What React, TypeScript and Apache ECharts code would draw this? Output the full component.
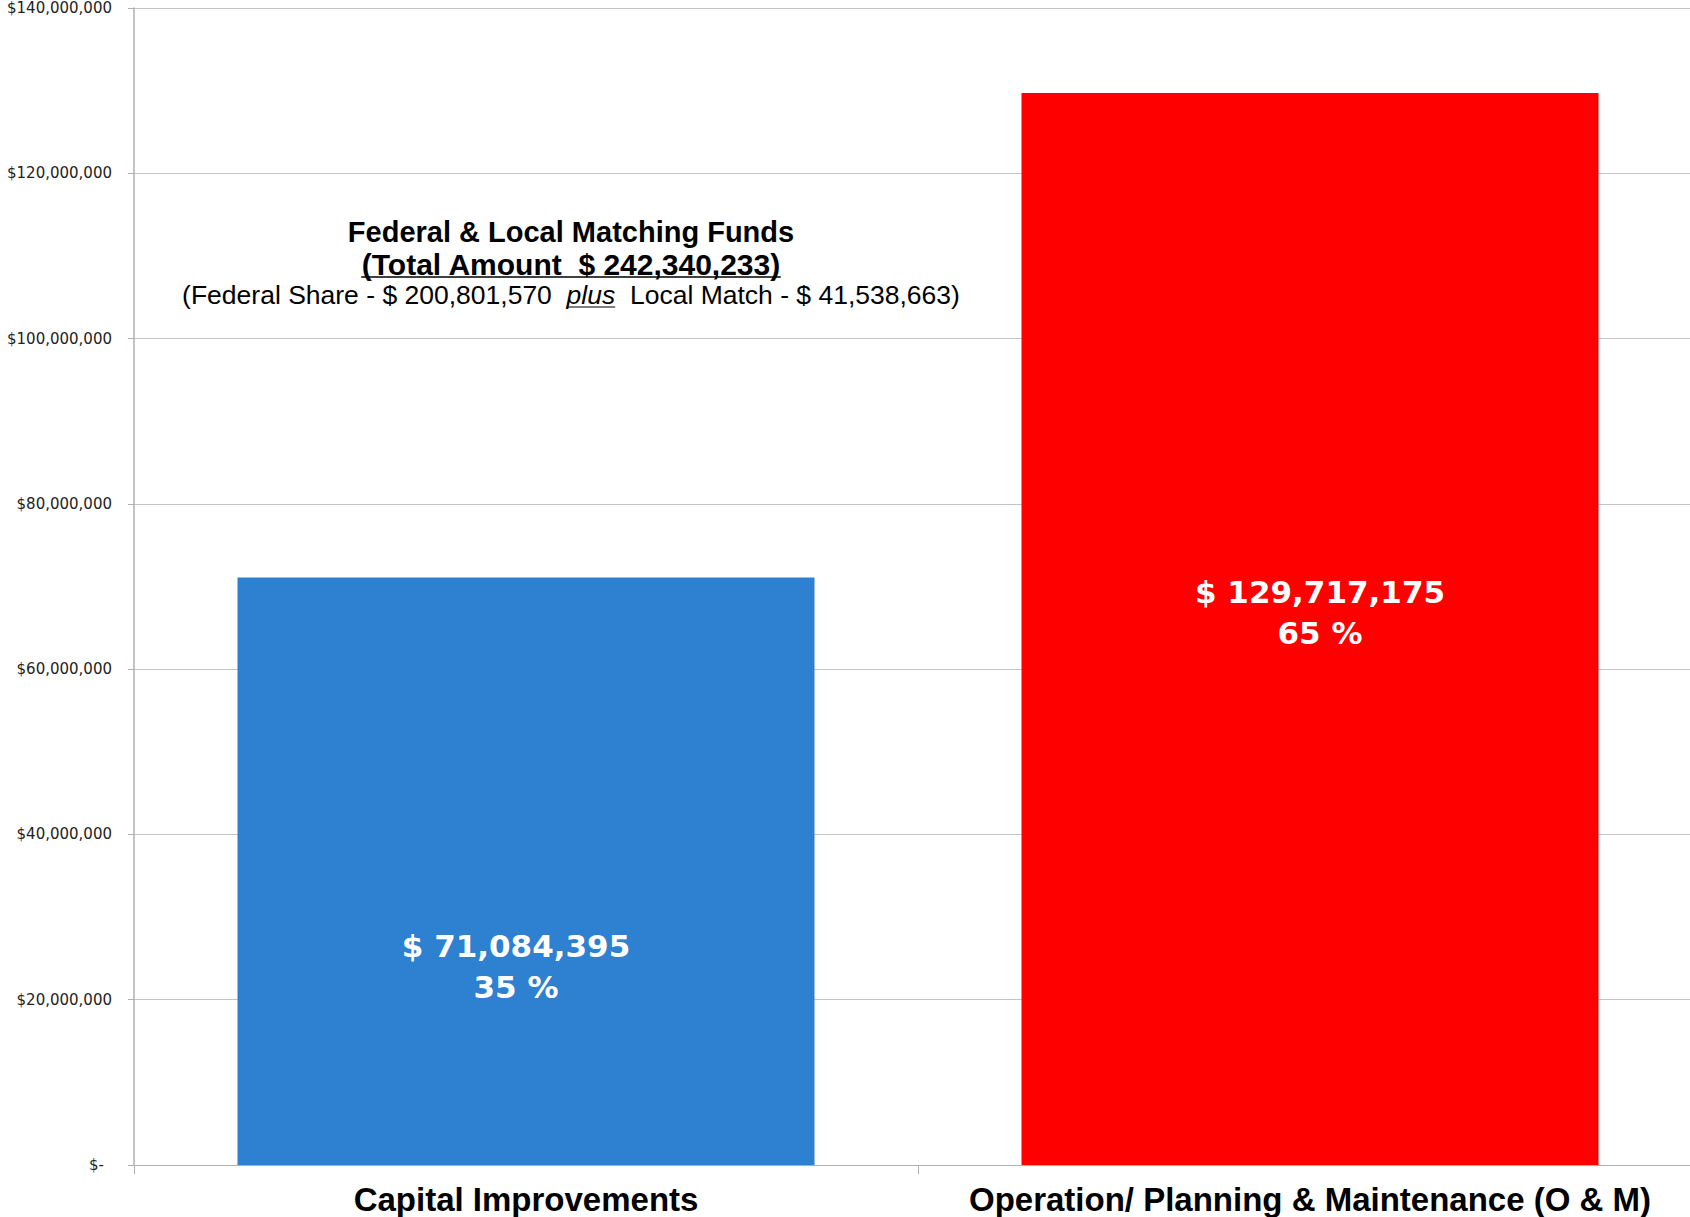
import React, { useEffect, useRef } from "react";
import * as echarts from "echarts";

const categories = ["Capital Improvements", "Operation/ Planning & Maintenance (O & M)"];
const values = [71084395, 129717175];
const percents = [35, 65];
const barColors = ["#2E80D0", "#FF0000"];
const yTicks = [0, 20000000, 40000000, 60000000, 80000000, 100000000, 120000000, 140000000];
const titleLine1 = "Federal & Local Matching Funds";
const titleLine2 = "(Total Amount  $ 242,340,233)";
const line3a = "(Federal Share - $ 200,801,570  ";
const line3b = "plus";
const line3c = "  Local Match - $ 41,538,663)";

function measure(text: string, font: string): number {
  const c = document.createElement("canvas");
  const ctx = c.getContext("2d");
  if (!ctx) return text.length * 10;
  ctx.font = font;
  return ctx.measureText(text).width;
}

export default function App() {
  const ref = useRef<HTMLDivElement>(null);
  useEffect(() => {
    if (!ref.current) return;
    const chart = echarts.init(ref.current, null, { renderer: "svg" });
    const cx = 571;
    const titleFont = "Liberation Sans";
    const f1 = `bold 29px "${titleFont}"`;
    const f2 = `bold 30px "${titleFont}"`;
    const f3 = `26.5px "${titleFont}"`;
    const f3i = `italic 26.5px "${titleFont}"`;
    const w2 = measure(titleLine2, f2);
    const wa = measure(line3a, f3);
    const wb = measure(line3b, f3i);
    const wc = measure(line3c, f3);
    const total3 = wa + wb + wc;
    const x3 = cx - total3 / 2;
    const plusX0 = x3 + wa;
    chart.setOption({
      animation: false,
      grid: { left: 134, top: 8, right: 0, height: 1157, containLabel: false },
      xAxis: {
        type: "category",
        data: categories,
        axisLine: { show: true, lineStyle: { color: "#b0b0b0", width: 1 } },
        axisTick: { show: true, interval: 0, length: 9, lineStyle: { color: "#b0b0b0" } },
        axisLabel: {
          interval: 0,
          hideOverlap: false,
          margin: 18,
          fontSize: 33,
          fontWeight: "bold",
          fontFamily: "Liberation Sans",
          color: "#000",
        },
      },
      yAxis: {
        type: "value",
        min: yTicks[0],
        max: yTicks[yTicks.length - 1],
        interval: 20000000,
        axisLine: { show: true, lineStyle: { color: "#b0b0b0", width: 1.5 } },
        axisTick: { show: true, length: 6, lineStyle: { color: "#b0b0b0" } },
        splitLine: { show: true, lineStyle: { color: "#c4c4c4", width: 1 } },
        axisLabel: {
          margin: 22,
          fontSize: 15,
          fontFamily: "DejaVu Sans",
          color: "#222",
          formatter: (v: number) => (v === 0 ? "{z|$-}" : "$" + v.toLocaleString("en-US")),
          rich: {
            z: { fontSize: 15, fontFamily: "DejaVu Sans", color: "#222", padding: [0, 8, 0, 0] },
          },
        },
      },
      series: [
        {
          type: "bar",
          barWidth: "73.6%",
          data: values.map((v, i) => ({
            value: v,
            itemStyle: { color: barColors[i] },
            label: { offset: i === 0 ? [-10, 95] : [10, -16] },
          })),
          label: {
            show: true,
            position: "inside",
            color: "#fff",
            fontSize: 31,
            fontWeight: "bold",
            fontFamily: "DejaVu Sans",
            lineHeight: 41,
            formatter: (p: any) =>
              "$ " + values[p.dataIndex].toLocaleString("en-US") + "\n" + percents[p.dataIndex] + " %",
          },
        },
      ],
      graphic: [
        {
          type: "text",
          x: cx,
          y: 232,
          style: {
            text: titleLine1,
            font: f1,
            fill: "#000",
            align: "center",
            verticalAlign: "middle",
          },
        },
        {
          type: "text",
          x: cx,
          y: 264,
          style: {
            text: titleLine2,
            font: f2,
            fill: "#000",
            align: "center",
            verticalAlign: "middle",
          },
        },
        {
          type: "line",
          shape: { x1: cx - w2 / 2, y1: 277, x2: cx + w2 / 2, y2: 277 },
          style: { stroke: "#000", lineWidth: 1.5 },
        },
        {
          type: "text",
          x: x3,
          y: 295,
          style: { text: line3a, font: f3, fill: "#000", align: "left", verticalAlign: "middle" },
        },
        {
          type: "text",
          x: plusX0,
          y: 295,
          style: { text: line3b, font: f3i, fill: "#000", align: "left", verticalAlign: "middle" },
        },
        {
          type: "line",
          shape: { x1: plusX0, y1: 307, x2: plusX0 + wb, y2: 307 },
          style: { stroke: "#000", lineWidth: 1 },
        },
        {
          type: "text",
          x: plusX0 + wb,
          y: 295,
          style: { text: line3c, font: f3, fill: "#000", align: "left", verticalAlign: "middle" },
        },
      ],
    });
    return () => chart.dispose();
  }, []);
  return (
    <div
      style={{
        position: "fixed",
        left: 0,
        top: 0,
        width: 1690,
        height: 1217,
        overflow: "hidden",
        background: "#fff",
      }}
    >
      <div ref={ref} style={{ width: 1702, height: 1217 }} />
    </div>
  );
}
